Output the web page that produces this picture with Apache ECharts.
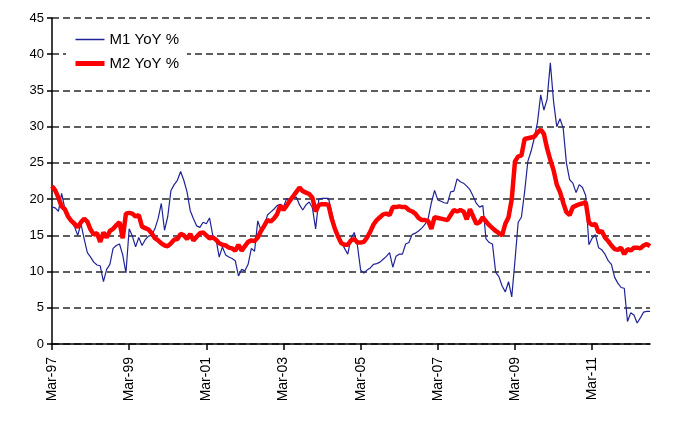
<!DOCTYPE html>
<html>
<head>
<meta charset="utf-8">
<script src="https://cdn.jsdelivr.net/npm/echarts@6/dist/echarts.min.js"></script>
<style>
html,body{margin:0;padding:0;background:#fff;}
#chart{width:677px;height:431px;}
</style>
</head>
<body>
<div id="chart"></div>
<script>
// Monthly, Mar-97 .. Sep-12
var monthNames = ['Jan','Feb','Mar','Apr','May','Jun','Jul','Aug','Sep','Oct','Nov','Dec'];
var categories = [];
for (var k = 0; k < 187; k++) {
  var m = (2 + k) % 12;
  var y = 1997 + Math.floor((2 + k) / 12);
  categories.push(monthNames[m] + '-' + String(y % 100).padStart(2, '0'));
}

var m1YoY = [
  18.9,18.8,18.3,20.8,18.7,17.5,16.9,16.2,15.0,16.6,
  14.5,12.6,12.0,11.3,10.9,10.8,8.6,10.3,11.0,13.2,
  13.6,13.8,12.3,9.8,15.9,14.9,13.4,14.7,13.6,14.4,
  14.9,15.0,15.9,17.3,19.4,15.7,17.6,21.2,22.0,22.6,
  23.8,22.6,21.0,18.4,17.3,16.3,16.1,16.8,16.6,17.4,
  15.0,14.5,12.0,13.4,12.3,12.0,11.8,11.5,9.4,10.3,
  10.1,11.0,13.2,12.8,17.0,15.7,16.1,17.8,18.2,18.6,
  19.1,19.3,18.9,20.1,19.6,20.1,20.3,19.2,18.5,19.2,
  19.6,18.8,15.9,20.0,20.1,20.1,20.1,18.2,16.4,14.8,
  14.0,13.2,12.4,14.6,15.4,13.6,10.2,9.8,10.2,10.5,
  11.0,11.1,11.3,11.7,12.1,12.6,10.6,12.1,12.4,12.4,
  13.8,14.0,15.1,15.3,15.6,16.0,16.5,17.3,19.5,21.2,
  19.9,19.7,19.5,19.4,21.0,21.1,22.8,22.4,22.2,21.8,
  21.3,20.4,19.4,18.9,19.1,14.5,14.0,13.8,9.9,9.3,
  8.0,7.2,8.6,6.5,11.5,16.8,17.5,21.0,25.2,26.6,
  28.4,30.6,34.4,32.3,33.8,38.8,33.5,30.0,31.1,29.8,
  25.0,22.7,22.2,20.9,22.0,21.6,20.5,13.7,14.6,15.1,
  13.3,13.0,12.4,11.5,11.0,9.2,8.4,7.8,7.7,3.1,
  4.3,4.0,2.9,3.6,4.4,4.5,4.5
];

var m2YoY = [
  21.8,21.2,20.2,19.0,18.6,17.6,17.0,16.6,16.1,16.8,
  17.3,16.9,15.8,15.1,15.3,14.1,15.4,14.7,15.6,15.9,
  16.4,16.8,14.6,18.0,18.1,18.0,17.6,17.8,16.2,16.0,
  15.8,15.3,14.6,14.3,13.9,13.6,13.5,13.9,14.4,14.5,
  15.2,15.0,14.5,15.2,14.3,14.8,15.3,15.4,15.0,14.6,
  14.7,14.4,13.9,13.7,13.6,13.3,13.2,12.9,13.7,12.9,
  13.5,14.1,14.3,14.2,14.7,15.6,16.3,17.1,16.9,17.3,
  17.9,19.1,18.5,19.1,19.8,20.4,21.0,21.6,21.1,20.9,
  20.7,20.2,18.3,19.2,19.3,19.3,19.2,17.3,15.9,14.8,
  13.9,13.7,13.7,14.3,14.5,14.0,14.0,14.1,14.7,15.5,
  16.5,17.1,17.5,17.9,18.0,17.8,18.9,18.9,19.0,18.9,
  18.9,18.5,18.3,18.0,17.4,17.1,17.1,17.0,15.9,17.5,
  17.4,17.3,17.2,17.1,17.8,18.5,18.3,18.5,18.3,17.2,
  18.6,17.6,16.6,16.8,17.5,16.9,16.4,16.0,15.6,15.3,
  15.0,16.6,17.5,20.0,25.2,25.9,26.0,28.3,28.4,28.5,
  28.6,29.2,29.6,29.0,27.0,25.4,24.0,22.0,21.0,19.5,
  18.2,17.8,18.9,19.1,19.3,19.4,19.6,16.8,16.4,16.6,
  15.4,15.6,14.7,14.2,13.6,13.1,13.0,13.3,12.4,13.1,
  12.9,13.3,13.3,13.2,13.6,13.8,13.5
];

var seriesNames = ['M1 YoY %', 'M2 YoY %'];

var chart = echarts.init(document.getElementById('chart'), null, {renderer: 'canvas'});
var font = 'Liberation Sans, Arial, sans-serif';
chart.setOption({
  animation: false,
  backgroundColor: '#ffffff',
  grid: {left: 52, right: 27, top: 18, bottom: 87, containLabel: false},
  legend: {
    orient: 'vertical',
    left: 66,
    top: 26,
    padding: [6, 8, 6, 7],
    backgroundColor: '#ffffff',
    itemWidth: 29,
    itemHeight: 14,
    itemGap: 9,
    itemStyle: {color: 'rgba(0,0,0,0)', borderColor: 'rgba(0,0,0,0)', borderWidth: 0},
    textStyle: {fontFamily: font, fontSize: 15, color: '#000', lineHeight: 14},
    data: [
      {name: seriesNames[0], lineStyle: {color: '#1f2396', width: 1.5}},
      {name: seriesNames[1], lineStyle: {color: '#ff0000', width: 5}}
    ]
  },
  xAxis: {
    type: 'category',
    data: categories,
    boundaryGap: false,
    axisLine: {lineStyle: {color: '#000', width: 1.5}},
    axisTick: {show: true, interval: 23, length: 6, lineStyle: {color: '#000', width: 1.5}},
    axisLabel: {interval: 23, rotate: 90, margin: 13, color: '#000', fontFamily: font, fontSize: 14},
    splitLine: {show: false}
  },
  yAxis: {
    type: 'value',
    min: 0, max: 45, interval: 5,
    axisLine: {show: true, lineStyle: {color: '#000', width: 1.5}},
    axisTick: {show: true, length: 5, lineStyle: {color: '#000', width: 1.5}},
    axisLabel: {color: '#000', fontFamily: font, fontSize: 13, margin: 8},
    splitLine: {show: true, lineStyle: {color: '#2a2a2a', width: 1.6, type: [7, 4]}}
  },
  series: [
    {
      name: seriesNames[0], type: 'line', data: m1YoY, symbol: 'none', z: 3,
      lineStyle: {color: '#1f2396', width: 1.2}, itemStyle: {color: '#1f2396'}
    },
    {
      name: seriesNames[1], type: 'line', data: m2YoY, symbol: 'none', z: 4,
      lineStyle: {color: '#ff0000', width: 4.5}, itemStyle: {color: '#ff0000'}
    }
  ]
});
</script>
</body>
</html>
